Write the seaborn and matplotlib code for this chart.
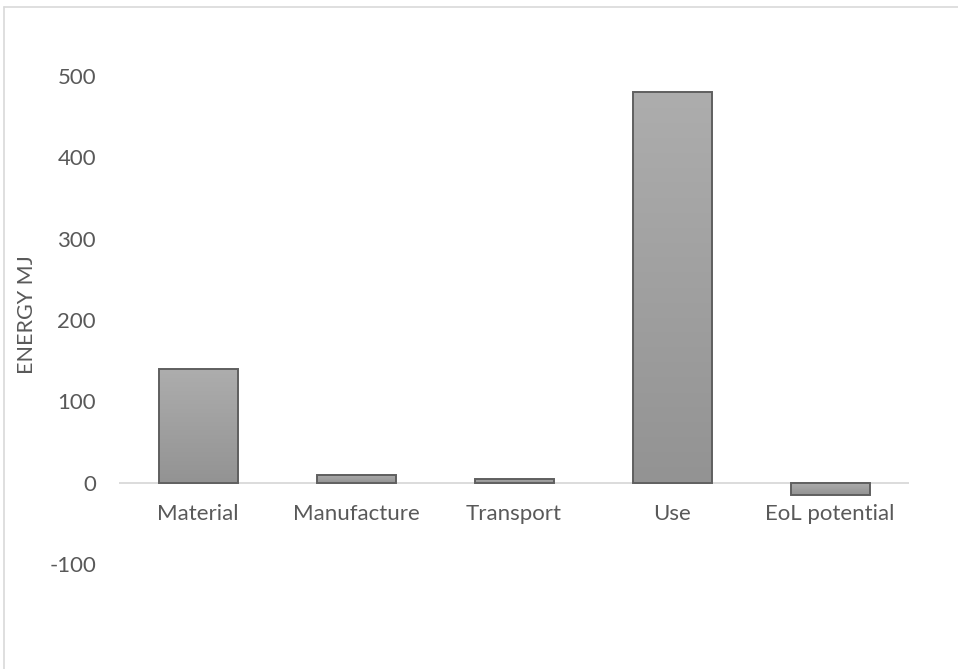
import numpy as np
import pandas as pd
import matplotlib
matplotlib.use("Agg")
import matplotlib.pyplot as plt
from matplotlib.lines import Line2D
from matplotlib.colors import LinearSegmentedColormap
import seaborn as sns

categories = ["Material", "Manufacture", "Transport", "Use", "EoL potential"]
values = [140, 10, 5, 480, -15]
yticks = [-100, 0, 100, 200, 300, 400, 500]

sns.set_theme(style="white")
plt.rcParams['font.family'] = ['Lato', 'DejaVu Sans']

FS = 16
W, H = 958, 669
fig = plt.figure(figsize=(W / 100, H / 100), dpi=100)
ax_left, ax_right = 119 / W, 909 / W
ax_top, ax_bot = 1 - 76 / H, 1 - 564 / H
ax = fig.add_axes([ax_left, ax_bot, ax_right - ax_left, ax_top - ax_bot])

df = pd.DataFrame({"cat": categories, "val": values})
sns.barplot(data=df, x="cat", y="val", ax=ax, color="#A0A0A0", width=0.5,
            edgecolor="#5F5F5F", linewidth=1.4, saturation=1)

ax.set_ylim(-100, 500)
ax.set_xlim(-0.5, len(categories) - 0.5)

# gradient fill for bars
grad = np.linspace(0, 1, 256).reshape(-1, 1)
cmap = LinearSegmentedColormap.from_list("g", ["#939393", "#ADADAD"])
for p in ax.patches:
    x0, y0 = p.get_x(), p.get_y()
    w, h = p.get_width(), p.get_height()
    ylo, yhi = min(y0, y0 + h), max(y0, y0 + h)
    im = ax.imshow(grad, cmap=cmap, aspect="auto", origin="lower",
                   extent=[x0, x0 + w, ylo, yhi], zorder=p.get_zorder() - 0.1)
    im.set_clip_path(p)
    p.set_facecolor("none")
    p.set_zorder(3)

ax.set_xlim(-0.5, len(categories) - 0.5)
ax.set_ylim(-100, 500)
ax.axhline(0, color="#D9D9D9", linewidth=1.3, zorder=1)

for s in ax.spines.values():
    s.set_visible(False)

ax.set_yticks(yticks)
ax.set_yticklabels([str(v) for v in yticks])
ax.tick_params(axis="y", length=0, pad=16.5, labelsize=FS, labelcolor="#595959")
ax.tick_params(axis="x", length=0, labelsize=FS, labelcolor="#595959")
ax.set_xlabel("")
ax.set_ylabel("")
ax.set_xticks(range(len(categories)))
ax.set_xticklabels([])
for i, c in enumerate(categories):
    ax.annotate(c, xy=(i, 0), xytext=(0, -31), textcoords="offset pixels",
                ha="center", va="center", fontsize=FS, color="#595959")

fig.text(27 / W, 1 - 315 / H, "ENERGY MJ", rotation=90, ha="center", va="center",
         fontsize=15.5, color="#595959")

# chart frame (top and left edges visible)
fig.add_artist(Line2D([4 / W, 1.0], [1 - 7 / H, 1 - 7 / H], transform=fig.transFigure,
                      color="#D9D9D9", linewidth=1.2))
fig.add_artist(Line2D([4 / W, 4 / W], [0, 1 - 7 / H], transform=fig.transFigure,
                      color="#D9D9D9", linewidth=1.2))

fig.savefig("out.png", dpi=100, facecolor="white")
